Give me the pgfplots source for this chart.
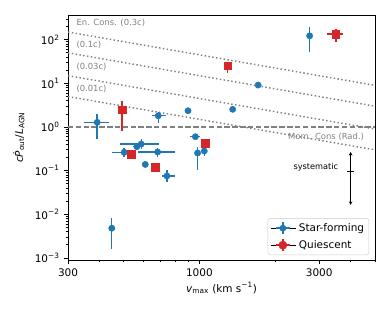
\documentclass[border=0pt]{standalone}
\usepackage{fontspec}
\setmainfont{DejaVu Sans}
\usepackage{pgfplots}
\pgfplotsset{compat=1.18}
\usetikzlibrary{arrows.meta}
\definecolor{sfblue}{HTML}{1F77B4}
\definecolor{qred}{HTML}{D62728}
\begin{document}
\begin{tikzpicture}
\begin{axis}[
  scale only axis, width=255pt, height=203.5pt,
  xmode=log, ymode=log,
  xmin=300, xmax=5000, ymin=9e-4, ymax=367,
  xtick={300,1000,3000}, xticklabels={300,1000,3000},
  minor xtick={400,500,600,700,800,900,2000,4000,5000},
  ytick={1e-3,1e-2,1e-1,1,10,100},
  yticklabels={10\textsuperscript{−3},10\textsuperscript{−2},10\textsuperscript{−1},10\textsuperscript{0},10\textsuperscript{1},10\textsuperscript{2}},
  minor ytick={2e-3,3e-3,4e-3,5e-3,6e-3,7e-3,8e-3,9e-3,2e-2,3e-2,4e-2,5e-2,6e-2,7e-2,8e-2,9e-2,0.2,0.3,0.4,0.5,0.6,0.7,0.8,0.9,2,3,4,5,6,7,8,9,20,30,40,50,60,70,80,90,200,300},
  tick align=outside, xtick pos=bottom, ytick pos=left,
  major tick length=3.5pt, minor tick length=2pt,
  tick style={black, line width=0.6pt},
  axis line style={line width=0.7pt},
  ticklabel style={font=\fontsize{8.7}{10}\selectfont},
  label style={font=\fontsize{8.7}{10}\selectfont},
  xlabel={\textit{v}\textsubscript{max} (km s\textsuperscript{−1})},
  ylabel={\textit{c}\textit{\.{P}}\textsubscript{out}/\textit{L}\textsubscript{AGN}},
  xlabel style={at={(axis description cs:0.5,-0.114)}, anchor=center},
  ylabel style={at={(axis description cs:-0.16,0.5)}, anchor=center},
  legend style={at={(rel axis cs:0.981,0.02)}, anchor=south east, draw=gray!40, rounded corners=2pt, font=\fontsize{8.7}{10}\selectfont, inner sep=2pt, row sep=2pt},
  legend cell align=left,
]
% energy-conserving lines
\addplot[gray, line width=1.2pt, dash pattern=on 1.2pt off 2pt, forget plot] coordinates {(300,150) (5000,9)};
\addplot[gray, line width=1.2pt, dash pattern=on 1.2pt off 2pt, forget plot] coordinates {(300,50) (5000,3)};
\addplot[gray, line width=1.2pt, dash pattern=on 1.2pt off 2pt, forget plot] coordinates {(300,15) (5000,0.9)};
\addplot[gray, line width=1.2pt, dash pattern=on 1.2pt off 2pt, forget plot] coordinates {(300,5) (5000,0.3)};
% momentum conserving
\addplot[gray, line width=1.2pt, dash pattern=on 4.5pt off 2pt, forget plot] coordinates {(300,1) (5000,1)};

\node[anchor=west, text=gray, font=\fontsize{7}{8}\selectfont] at (axis cs:312,237) {En. Cons. (0.3c)};
\node[anchor=west, text=gray, font=\fontsize{7}{8}\selectfont] at (axis cs:312,75.5) {(0.1c)};
\node[anchor=west, text=gray, font=\fontsize{7}{8}\selectfont] at (axis cs:312,24) {(0.03c)};
\node[anchor=west, text=gray, font=\fontsize{7}{8}\selectfont] at (axis cs:312,7.3) {(0.01c)};
\node[anchor=east, text=gray, font=\fontsize{7}{8}\selectfont] at (axis cs:4700,0.6) {Mom. Cons (Rad.)};

% systematic
\draw[{Stealth[length=3pt,width=3pt]}-{Stealth[length=3pt,width=3pt]}, line width=0.7pt] (axis cs:4000,0.268) -- (axis cs:4000,0.0164);
\draw[line width=0.7pt] (axis cs:3877,0.098) -- (axis cs:4125,0.098);
\node[anchor=east, font=\fontsize{6.8}{7}\selectfont] at (axis cs:3709,0.121) {systematic};

% star-forming
\addplot[only marks, mark=*, color=sfblue, mark size=2.6pt, forget plot,
  error bars/.cd, x dir=both, x explicit, y dir=both, y explicit, error mark=none,
  error bar style={line width=1.2pt, sfblue}] coordinates {
(392,1.28) += (44,0.70) -= (45,0.76)
(686,1.81) += (48,0.43) -= (41,0.60)
(502,0.264) += (38,0.07) -= (51,0.055)
(564,0.354) += (20,0.05) -= (20,0.05)
(587,0.408) += (101,0.13) -= (103,0.10)
(682,0.268) += (120,0.06) -= (110,0.06)
(609,0.139) += (0,0) -= (0,0)
(743,0.0756) += (59,0.028) -= (34,0.02)
(901,2.36) += (20,0.2) -= (20,0.2)
(1357,2.54) += (30,0.25) -= (30,0.25)
(964,0.60) += (45,0.03) -= (44,0.03)
(984,0.254) += (15,0.10) -= (15,0.15)
(1046,0.282) += (15,0.05) -= (15,0.07)
(1714,9.14) += (40,0.6) -= (40,0.6)
(2747,122.8) += (20,74) -= (20,71.6)
(448,0.00481) += (8,0.0033) -= (8,0.0032)
};
% quiescent
\addplot[only marks, mark=square*, color=qred, mark size=3pt, forget plot,
  error bars/.cd, x dir=both, x explicit, y dir=both, y explicit, error mark=none,
  error bar style={line width=1.2pt, qred}] coordinates {
(493,2.45) += (15,1.49) -= (15,1.63)
(535,0.237) += (15,0.02) -= (15,0.02)
(667,0.12) += (23,0.01) -= (17,0.01)
(1056,0.424) += (15,0.07) -= (15,0.07)
(1297,24.9) += (20,6.3) -= (20,8)
(3499,134) += (246,41) -= (267,44.5)
};

\addlegendimage{legend image code/.code={\path (0cm,0cm) -- (0.75cm,0cm); \draw[sfblue,line width=1.2pt] (0.16cm,0cm)--(0.56cm,0cm) (0.36cm,-0.17cm)--(0.36cm,0.17cm); \fill[sfblue] (0.36cm,0cm) circle (2.6pt);}}
\addlegendentry{Star-forming}
\addlegendimage{legend image code/.code={\path (0cm,0cm) -- (0.75cm,0cm); \draw[qred,line width=1.2pt] (0.16cm,0cm)--(0.56cm,0cm) (0.36cm,-0.17cm)--(0.36cm,0.17cm); \fill[qred] (0.36cm-3pt,-3pt) rectangle (0.36cm+3pt,3pt);}}
\addlegendentry{Quiescent}
\end{axis}
\pgfresetboundingbox
\path[use as bounding box] ([shift={(-56.5pt,-43.2pt)}]current axis.south west) rectangle ([shift={(12.5pt,12.5pt)}]current axis.north east);
\end{tikzpicture}
\end{document}
